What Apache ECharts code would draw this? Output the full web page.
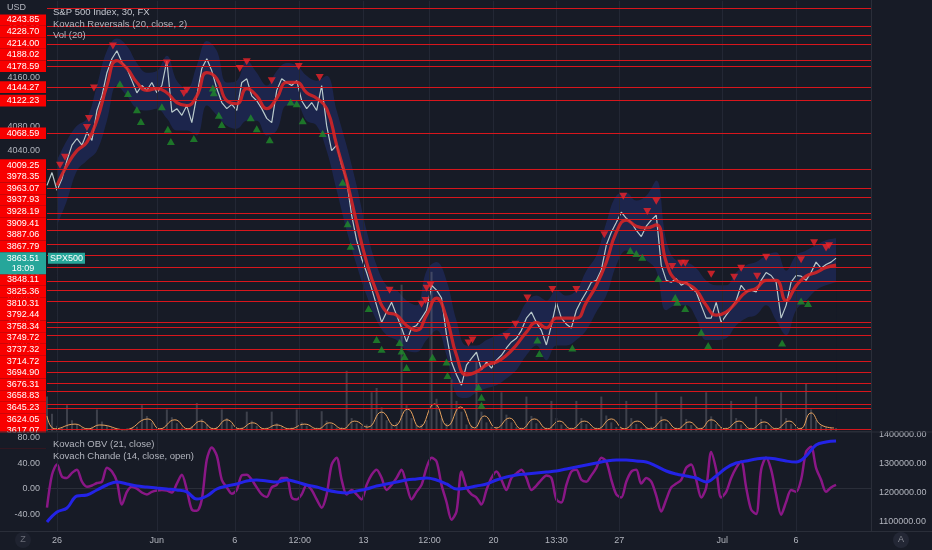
<!DOCTYPE html>
<html><head><meta charset="utf-8">
<script src="https://cdn.jsdelivr.net/npm/echarts@6/dist/echarts.min.js"></script>
<style>html,body{margin:0;padding:0;background:#171b26;}#c{width:932px;height:550px;}</style>
</head><body><div id="c"></div><script>
// ---- data ----
const priceClose = [3983,4004,3975,3994,4024,4049,4060,4049,4070,4057,
 4106,4130,4168,4191,4204,4185,4175,4155,4135,4147,
 4139,4152,4135,4147,4188,4103,4109,4098,4114,4086,
 4130,4175,4191,4171,4142,4119,4109,4116,4106,4152,
 4158,4130,4122,4109,4093,4086,4139,4158,4152,4147,
 4155,4122,4109,4119,4106,4147,4081,4040,4049,4016,
 3991,3934,3893,3863,3840,3814,3786,3758,3775,3791,
 3770,3749,3726,3749,3753,3765,3778,3819,3811,3798,
 3737,3693,3672,3655,3688,3699,3709,3680,3693,3683,
 3696,3704,3716,3726,3732,3745,3765,3775,3758,3745,
 3721,3753,3791,3765,3755,3749,3778,3794,3808,3824,
 3827,3844,3885,3906,3922,3939,3929,3922,3909,3899,
 3916,3926,3934,3852,3827,3824,3830,3819,3824,3814,
 3808,3786,3765,3765,3791,3758,3770,3781,3794,3819,
 3808,3811,3808,3827,3840,3835,3824,3765,3786,3824,
 3835,3834,3827,3840,3857,3847,3853,3857,3863.51];
const lastPrice = 3863.51;
const lastTime = '18:09';
// Kovach Reversals line and band, every 2nd bar starting at bar 2
const revLine = [3983,4016,4040,4054,4090,4147,4188,4175,4152,4139,
 4142,4135,4119,4114,4130,4168,4158,4122,4117,4142,
 4130,4109,4126,4152,4152,4135,4126,4109,4049,3991,
 3922,3857,3808,3775,3770,3753,3745,3770,3798,3765,
 3704,3672,3677,3688,3693,3704,3721,3742,3758,3749,
 3765,3765,3765,3791,3819,3857,3906,3926,3916,3913,
 3918,3857,3827,3822,3811,3786,3770,3775,3791,3808,
 3814,3827,3827,3794,3818,3834,3840,3848,3852];
const bandUpper = [4024,4057,4081,4093,4147,4204,4224,4212,4184,4168,
 4171,4196,4155,4142,4180,4220,4204,4152,4155,4188,
 4168,4147,4171,4184,4180,4163,4155,4163,4106,4048,
 3983,3909,3852,3819,3811,3794,3786,3843,3857,3827,
 3761,3720,3720,3729,3737,3745,3761,3791,3802,3794,
 3811,3802,3811,3843,3868,3922,3966,3971,3958,3966,
 3991,3893,3860,3857,3847,3827,3819,3819,3840,3852,
 3857,3868,3873,3843,3868,3876,3885,3893,3896];
const bandLower = [3917,3958,4007,4024,4040,4089,4147,4130,4109,4106,
 4109,4093,4073,4073,4065,4114,4098,4081,4076,4089,
 4089,4065,4073,4114,4114,4089,4081,4040,3975,3909,
 3852,3802,3761,3737,3729,3712,3709,3729,3745,3704,
 3639,3634,3643,3650,3655,3666,3680,3704,3720,3696,
 3720,3720,3729,3745,3775,3802,3852,3876,3868,3860,
 3843,3778,3786,3786,3765,3729,3729,3732,3753,3765,
 3770,3786,3761,3737,3778,3794,3811,3819,3824];
const sellMarks = [[2.6,4016],[3.6,4029],[8,4078],[8.4,4093],[9.4,4143],[13.2,4212],[24,4184],[27.4,4134],[28,4139],[38.6,4175],[40,4186],[45,4155],[50.4,4178],[54.6,4160],[68.6,3811],[75,3788],[75.8,3794],[76,3814],[76.8,3819],[84.4,3724],[85.2,3729],[92,3735],[93.8,3755],[96.2,3798],[101.2,3812],[106,3812],[111.6,3902],[115.4,3965],[120.2,3940],[122,3957],[125.2,3850],[127,3855],[127.8,3855],[133,3837],[137.6,3832],[139,3847],[142.2,3834],[144,3865],[151,3861],[153.6,3889],[156,3880],[156.6,3884]];
const buyMarks = [[14.6,4150],[16.2,4134],[18,4107],[18.8,4088],[23,4112],[24.2,4075],[24.8,4055],[29.4,4060],[33.2,4143],[33.4,4135],[34.4,4098],[35,4083],[40.8,4094],[42,4076],[44.6,4058],[48.8,4120],[50,4117],[51.2,4089],[55.2,4068],[59.2,3988],[60.2,3920],[60.8,3883],[64.4,3781],[66,3730],[67,3714],[70.6,3725],[71,3711],[71.6,3702],[72,3684],[77.2,3701],[80,3693],[80.2,3671],[86.4,3652],[87,3635],[87,3622],[98.2,3729],[98.6,3707],[105.2,3716],[116.8,3876],[118,3871],[119.2,3865],[122.4,3830],[125.8,3799],[126.2,3791],[127.8,3781],[131,3742],[132.4,3720],[147.2,3724],[151,3793],[152.4,3789]];
const levels = [4274.60,4243.85,4228.70,4214.00,4188.02,4178.59,4144.27,4122.23,4068.59,4009.25,3978.35,3963.07,3937.93,3928.19,3909.41,3887.06,3867.79,3848.11,3825.36,3810.31,3792.44,3758.34,3749.72,3737.32,3714.72,3694.90,3676.31,3658.83,3645.23,3624.05,3617.07,3582.60];
const volume = [8,4,1.2,0.8,6,2.5,1.5,0.8,0.7,1.0,
 5,2.2,1.2,0.8,0.6,0.5,0.6,0.7,1.0,6,
 3.5,2.0,0.8,0.7,5,3.2,1.8,0.8,0.7,1.2,
 6.5,2.8,1.5,0.8,1.0,5,3.0,1.5,0.7,0.8,
 4.5,2.4,1.2,0.7,0.8,4.5,1.8,1.0,0.7,0.8,
 5,2.0,1.2,0.7,0.8,4.6,2.4,1.5,0.8,0.9,
 14,3.0,1.8,1.2,1.5,9,10,5.5,2.5,1.6,
 2.0,34,6.0,3.0,1.4,1.6,2.5,37,7.5,3.0,
 1.8,12,7,4.5,1.5,1.2,16,4.5,2.0,1.0,
 1.0,9,3.8,2.0,0.9,0.8,8,3.5,1.8,0.8,
 0.8,7,3.0,1.5,0.8,0.8,7,3.0,1.6,0.8,
 0.8,8,3.6,2.0,0.9,0.8,7,3.0,1.6,0.8,
 0.8,1.0,9,3.4,1.8,0.8,0.8,8,2.8,1.4,
 0.8,0.8,9,3.4,1.6,0.8,0.8,7,3.0,1.5,
 0.8,0.8,8,2.8,1.4,0.8,0.8,9,3.0,1.6,
 0.8,0.8,11,5.0,2.5,1.2,0.9,0.8,0.7];
const volMA = [[0,3.5],[1.6,0.5],[5.6,1.6],[8.2,0.5],[10.6,1.4],[15.6,0.3],[20.2,2.8],[22.6,0.5],[25.6,2.6],[28.2,0.5],[30.8,2.3],[33.4,0.5],[36,2.6],[38.6,0.5],[41.2,1.9],[43.6,0.5],[46,1.4],[48.6,0.5],[51.6,1.6],[54.2,0.5],[56.6,1.9],[59.2,0.5],[61.6,2.3],[64.2,0.9],[67,4.4],[69.6,1.2],[72.2,5.1],[74.6,0.9],[77.6,6.3],[80.2,1.2],[82.8,5.6],[85.6,0.7],[87.6,3.5],[90,0.7],[92.6,3.0],[95,0.5],[97.6,2.8],[100.2,0.5],[102.6,2.3],[105,0.5],[107.6,2.3],[110.2,0.5],[113,2.8],[115.6,0.5],[118.2,2.3],[120.8,0.5],[123.6,2.6],[126.2,0.5],[128.6,2.1],[130.8,0.5],[133,2.6],[135.8,0.5],[138.6,2.3],[141,0.5],[143.6,2.1],[146,0.5],[148.6,2.3],[150.8,0.5],[153,4.2],[155,1.4],[157.6,0.7]];
const chande = [-30,22,38,19,17,25,30,11,3,5,
 9,11,33,27,11,-25,-5,3,0,-6,
 -9,-5,-3,-2,-3,-6,8,22,-2,-33,
 -35,-17,46,65,52,14,2,-8,-2,21,
 22,14,2,-9,-13,2,6,17,17,-14,
 -17,-9,6,-2,-17,-30,-9,38,49,14,
 -9,-2,-9,-17,6,22,30,17,-2,6,
 17,30,6,-17,-5,6,33,49,43,6,
 -21,-49,-36,27,2,-9,-14,-25,-2,17,
 27,14,-2,17,24,30,17,-2,5,14,
 21,17,-17,-22,6,27,30,14,11,21,
 33,49,43,14,-9,-14,11,27,30,8,
 17,11,-11,-36,-17,2,8,14,33,38,
 14,-14,2,58,30,-14,-5,17,33,43,
 2,-33,-40,30,49,30,-9,-41,-21,-2,
 -5,14,58,66,33,14,-5,2,6];
// OBV, every 2nd bar from bar 0
const obv = [1099000,1133600,1147400,1189000,1192400,1209700,1227000,1237400,1230500,1223500,
 1220100,1216600,1213200,1209700,1202800,1178600,1189000,1213200,1223500,1230500,
 1240800,1244300,1240800,1237400,1244300,1237400,1227000,1220100,1209700,1202800,
 1199300,1206200,1213200,1223500,1230500,1237400,1244300,1247800,1251200,1244300,
 1230500,1213200,1216600,1223500,1230500,1244300,1254700,1261600,1265000,1268500,
 1272000,1275400,1282400,1289300,1296200,1303100,1310000,1313500,1313500,1310000,
 1306600,1292700,1275400,1265000,1258100,1251200,1237400,1258100,1285800,1303100,
 1310000,1317000,1320400,1317000,1310000,1306600,1327300,1365400,1375800,1379200];
const timeTicks = [2,22,37.6,50.6,63.4,76.6,89.4,102,114.6,135.2,150];
const timeLabels = ['26','Jun','6','12:00','13','12:00','20','13:30','27','Jul','6'];
const priceTicks = [3600,3640,3680,3720,3760,3800,3840,3880,3920,3960,4000,4040,4080,4120,4160,4200,4240,4280];
const chandeTicks = [-40,0,40,80];
const obvTicks = [1100000,1200000,1300000,1400000];

// ---- chart ----
const BG = '#171b26';
const TXT = '#b2b5be';
const FONT = '"Liberation Sans", Arial, sans-serif';
const chart = echarts.init(document.getElementById('c'));
const every2 = (arr, start) => arr.map((v, k) => [start + 2 * k, v]);
const vgrid = timeTicks.map(v => ({ xAxis: v }));

const option = {
  backgroundColor: BG,
  animation: false,
  textStyle: { fontFamily: FONT },
  grid: [
    { left: 47, right: 61, top: 0, height: 431 },
    { left: 47, right: 61, top: 433, height: 98 }
  ],
  xAxis: [
    { gridIndex: 0, type: 'value', min: 0, max: 165, axisLine: { show: true, lineStyle: { color: '#2a2e39' } }, axisTick: { show: false }, axisLabel: { show: false }, splitLine: { show: false } },
    { gridIndex: 1, type: 'value', min: 0, max: 165, axisLine: { show: true, lineStyle: { color: '#2a2e39' } }, axisTick: { show: false }, splitLine: { show: false },
      axisLabel: { customValues: timeTicks, formatter: v => timeLabels[timeTicks.indexOf(v)], color: TXT, fontSize: 9, margin: 5, fontFamily: FONT } }
  ],
  yAxis: [
    { gridIndex: 0, type: 'value', min: 3579.7, max: 4286.2, position: 'left', axisLine: { show: false }, axisTick: { show: false }, splitLine: { show: false },
      axisLabel: { customValues: priceTicks, formatter: v => v.toFixed(2), color: TXT, fontSize: 9, margin: 7, fontFamily: FONT } },
    { gridIndex: 0, type: 'value', min: 0, max: 100, show: false },
    { gridIndex: 1, type: 'value', min: -66.8, max: 87.9, position: 'left', z: 100, axisLine: { show: false }, axisTick: { show: false }, splitLine: { show: false },
      axisLabel: { customValues: chandeTicks, formatter: v => v.toFixed(2), color: TXT, fontSize: 9, margin: 7, fontFamily: FONT } },
    { gridIndex: 1, type: 'value', min: 1067820, max: 1406920, position: 'right', axisLine: { show: false }, axisTick: { show: false }, splitLine: { show: false },
      axisLabel: { customValues: obvTicks, formatter: v => v.toFixed(2), color: TXT, fontSize: 9, margin: 8, fontFamily: FONT } }
  ],
  series: [
    // band: translucent fill down from the upper edge, then background fill down from the lower edge
    { name: 'bandTop', type: 'line', xAxisIndex: 0, yAxisIndex: 0, data: every2(bandUpper, 2), symbol: 'none', smooth: 0.4, lineStyle: { opacity: 0 }, areaStyle: { color: 'rgba(40,60,160,0.32)', opacity: 1 }, z: 1, silent: true },
    { name: 'bandBottom', type: 'line', xAxisIndex: 0, yAxisIndex: 0, data: every2(bandLower, 2), symbol: 'none', smooth: 0.4, lineStyle: { opacity: 0 }, areaStyle: { color: BG, opacity: 1 }, z: 1, silent: true },
    { name: 'vol', type: 'bar', xAxisIndex: 0, yAxisIndex: 1, data: volume.map((v, i) => [i, v]), barWidth: 2, itemStyle: { color: 'rgba(125,128,140,0.38)' }, z: 2, silent: true,
      markLine: { silent: true, symbol: ['none', 'none'], label: { show: false }, lineStyle: { color: '#232734', width: 1, type: 'solid' }, data: vgrid } },
    { name: 'volMA', type: 'line', xAxisIndex: 0, yAxisIndex: 1, data: volMA, symbol: 'none', smooth: 0.5, lineStyle: { color: '#e8a35e', width: 1 }, z: 3, silent: true },
    { name: 'levels', type: 'line', xAxisIndex: 0, yAxisIndex: 0, data: [], z: 3, silent: true,
      markLine: { silent: true, symbol: ['none', 'none'], label: { show: false }, lineStyle: { color: '#d8161c', width: 1, type: 'solid', opacity: 1 }, data: levels.map(v => ({ yAxis: v })) } },
    { name: 'price', type: 'line', xAxisIndex: 0, yAxisIndex: 0, data: priceClose.map((v, i) => [i, v]), symbol: 'none', lineStyle: { color: '#b9c9cb', width: 1.2 }, z: 4, silent: true },
    { name: 'reversal', type: 'line', xAxisIndex: 0, yAxisIndex: 0, data: every2(revLine, 2), symbol: 'none', smooth: 0.5, lineStyle: { color: 'rgba(215,36,38,0.88)', width: 3.2 }, z: 5, silent: true },
    { name: 'sell', type: 'scatter', xAxisIndex: 0, yAxisIndex: 0, data: sellMarks, symbol: 'triangle', symbolRotate: 180, symbolSize: [8, 7], itemStyle: { color: '#ee2329' }, z: 6, silent: true },
    { name: 'buy', type: 'scatter', xAxisIndex: 0, yAxisIndex: 0, data: buyMarks, symbol: 'triangle', symbolSize: [8, 7], itemStyle: { color: '#1f8c2a' }, z: 6, silent: true },
    { name: 'chande', type: 'line', xAxisIndex: 1, yAxisIndex: 2, data: chande.map((v, i) => [i, v]), symbol: 'none', smooth: 0.3, lineStyle: { color: '#8a1786', width: 2.5 }, z: 4, silent: true,
      markLine: { silent: true, symbol: ['none', 'none'], label: { show: false }, lineStyle: { color: '#232734', width: 1, type: 'solid' }, data: vgrid } },
    { name: 'obv', type: 'line', xAxisIndex: 1, yAxisIndex: 3, data: every2(obv, 0), symbol: 'none', smooth: 0.4, lineStyle: { color: '#2323e6', width: 3 }, z: 5, silent: true }
  ]
};
chart.setOption(option);

// ---- price-scale labels (stacked around the last-price label) ----
const H = 11.6;
const yOf = v => chart.convertToPixel({ yAxisIndex: 0 }, v);
const txt = (s, x, y, color, size, align, z) => ({ type: 'text', x: x, y: y, z: z || 50,
  style: { text: s, fill: color, font: size + 'px ' + FONT, align: align, verticalAlign: 'middle', textAlign: align, textVerticalAlign: 'middle' } });
const g = [];
const ay = yOf(lastPrice);
const boxTop = ay - 6, boxBot = ay + 16;
const above = levels.filter(v => v > lastPrice).sort((a, b) => a - b);
const below = levels.filter(v => v < lastPrice).sort((a, b) => b - a);
let lim = boxTop;
above.forEach(v => { let y = Math.min(yOf(v), lim - H / 2); lim = y - H / 2;
  g.push({ type: 'rect', z: 40, shape: { x: 0, y: y - H / 2, width: 46, height: H }, style: { fill: '#f80000' } });
  g.push(txt(v.toFixed(2), 23, y, '#ffffff', 9, 'center', 41)); });
lim = boxBot;
below.forEach(v => { let y = Math.max(yOf(v), lim + H / 2); lim = y + H / 2;
  g.push({ type: 'rect', z: 40, shape: { x: 0, y: y - H / 2, width: 46, height: H }, style: { fill: '#f80000' } });
  g.push(txt(v.toFixed(2), 23, y, '#ffffff', 9, 'center', 41)); });
// last price label
g.push({ type: 'rect', z: 42, shape: { x: 0, y: boxTop, width: 46, height: boxBot - boxTop }, style: { fill: '#26a69a' } });
g.push(txt(lastPrice.toFixed(2), 23, ay, '#ffffff', 9, 'center', 43));
g.push(txt(lastTime, 23, ay + 10, '#ffffff', 9, 'center', 43));
g.push({ type: 'rect', z: 42, shape: { x: 48, y: ay - 5.5, width: 37, height: 11 }, style: { fill: '#26a69a' } });
g.push(txt('SPX500', 66.5, ay, '#ffffff', 9, 'center', 43));
// covers (pane clipping)
g.push({ type: 'rect', z: 60, shape: { x: 0, y: 0, width: 46, height: 14.5 }, style: { fill: BG } });
g.push(txt('USD', 7, 8, TXT, 9, 'left', 61));
g.push({ type: 'rect', z: 60, shape: { x: 0, y: 432.5, width: 47, height: 16 }, style: { fill: BG } });
// pane borders
g.push({ type: 'line', z: 61, shape: { x1: 0, y1: 432, x2: 932, y2: 432 }, style: { stroke: '#2a2e39', lineWidth: 1 } });
g.push({ type: 'line', z: 61, shape: { x1: 871.5, y1: 0, x2: 871.5, y2: 531 }, style: { stroke: '#2a2e39', lineWidth: 1 } });
g.push({ type: 'line', z: 61, shape: { x1: 0, y1: 531.5, x2: 932, y2: 531.5 }, style: { stroke: '#2a2e39', lineWidth: 1 } });
// legends
g.push(txt('S&P 500 Index, 30, FX', 53, 12, '#c3c6ce', 9.5, 'left', 61));
g.push(txt('Kovach Reversals (20, close, 2)', 53, 24, TXT, 9.5, 'left', 61));
g.push(txt('Vol (20)', 53, 35, TXT, 9.5, 'left', 61));
g.push(txt('Kovach OBV (21, close)', 53, 444, TXT, 9.5, 'left', 61));
g.push(txt('Kovach Chande (14, close, open)', 53, 456, TXT, 9.5, 'left', 61));
// corner buttons
g.push({ type: 'circle', z: 61, shape: { cx: 23, cy: 540, r: 8 }, style: { fill: '#1f2330' } });
g.push(txt('Z', 23, 540, '#6a6d78', 9, 'center', 62));
g.push({ type: 'circle', z: 61, shape: { cx: 901, cy: 540, r: 8 }, style: { fill: '#232735' } });
g.push(txt('A', 901, 540, '#8a8d96', 9, 'center', 62));
chart.setOption({ graphic: { elements: g } });
</script></body></html>
